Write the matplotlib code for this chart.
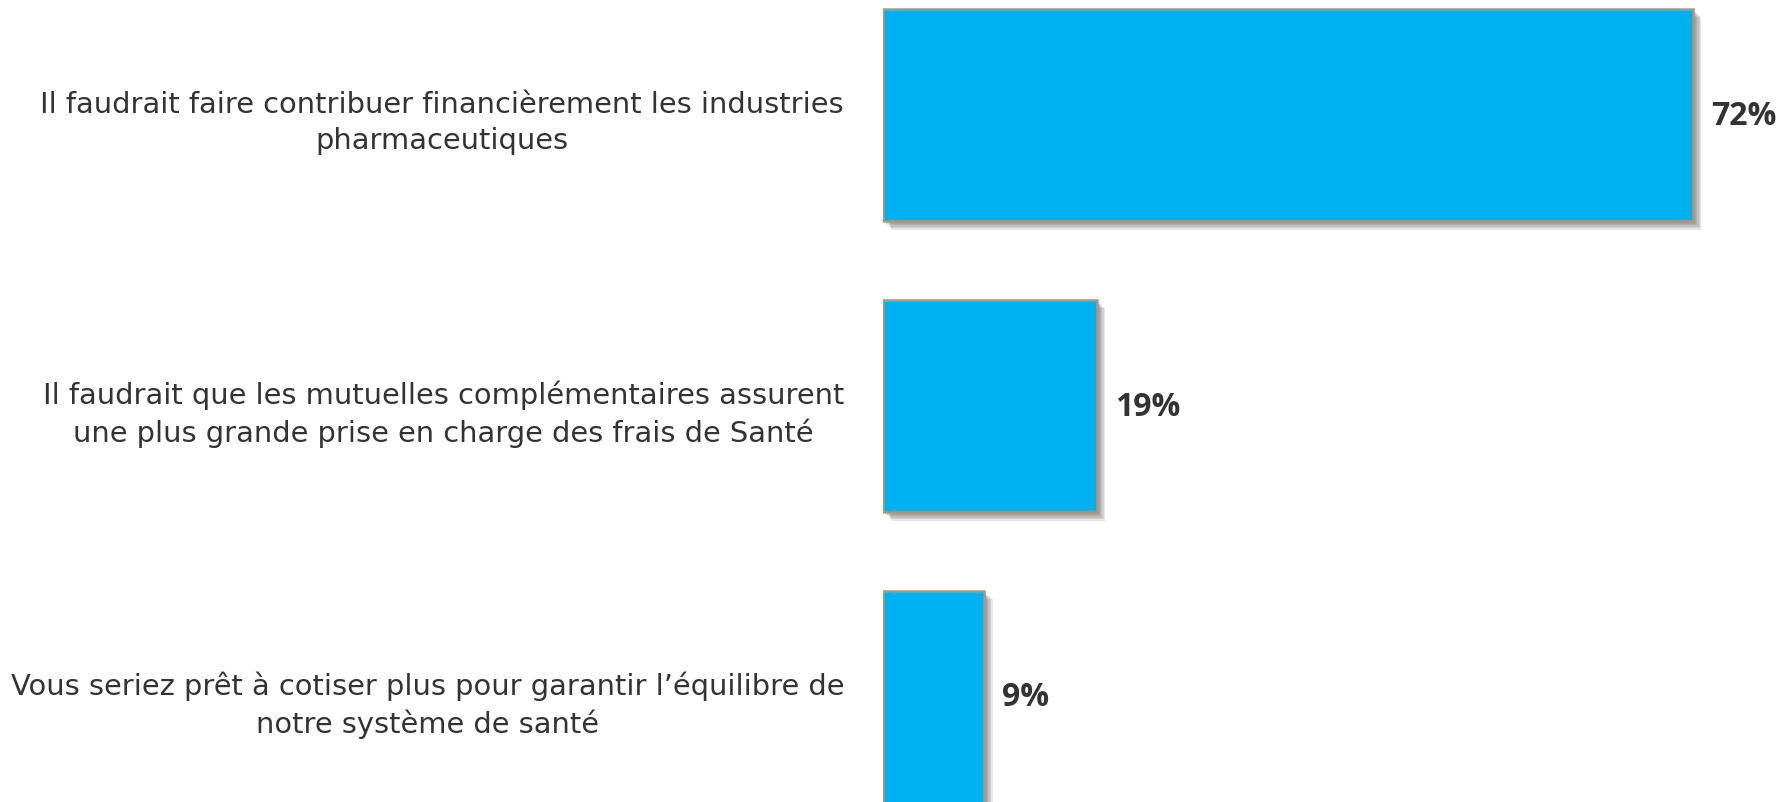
import matplotlib.pyplot as plt
import matplotlib.patheffects as pe

# Survey answers (share of respondents, %)
categories = [
    "Il faudrait faire contribuer financièrement les industries\npharmaceutiques",
    "Il faudrait que les mutuelles complémentaires assurent\nune plus grande prise en charge des frais de Santé",
    "Vous seriez prêt à cotiser plus pour garantir l\u2019équilibre de\nnotre système de santé",
]
values = [72, 19, 9]
value_labels = ["72%", "19%", "9%"]

fig = plt.figure(figsize=(17.83, 8.03), dpi=100)
ax = fig.add_axes([883 / 1783, 0, 1 - 883 / 1783, 1])

positions = list(range(len(values)))
bars = ax.barh(positions, values, height=0.73, color="#00B0F0",
               edgecolor="#A39A85", linewidth=1.8)

# soft drop shadow: a few stacked offset copies
shadow = [pe.SimplePatchShadow(offset=(d, -d), shadow_rgbFace="#666666", alpha=0.16)
          for d in (6, 5, 4, 3, 2)]
for b in bars:
    b.set_path_effects(shadow + [pe.Normal()])

for p, v, lab in zip(positions, values, value_labels):
    ax.text(v + 1.6, p, lab, va="center", ha="left", fontsize=23,
            fontweight="bold", color="#333333", family="Open Sans")

ax.set_xlim(0, 80)
ax.set_ylim(2.361, -0.399)
ax.set_yticks(positions)
ax.set_yticklabels(categories, fontsize=20.8, color="#333333")
for t in ax.get_yticklabels():
    t.set_multialignment("center")
    t.set_linespacing(1.35)
ax.tick_params(axis="y", length=0, pad=28)
ax.set_xticks([])
for s in ax.spines.values():
    s.set_visible(False)

fig.savefig("out.png", dpi=100)
